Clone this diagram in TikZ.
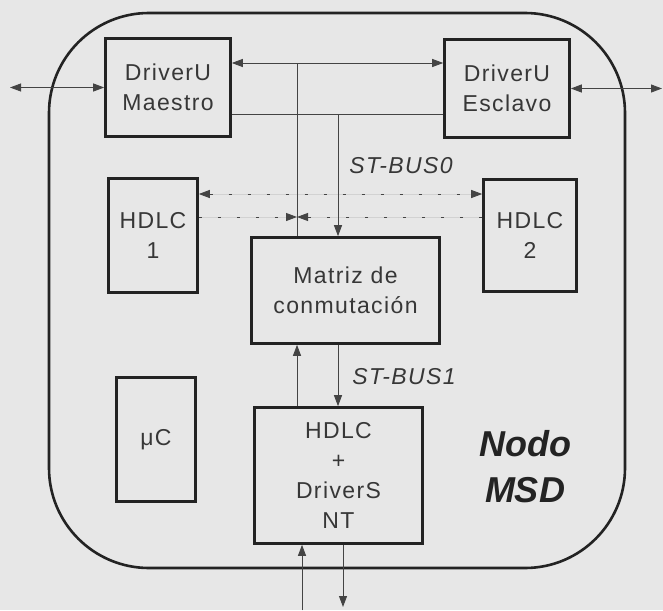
\documentclass[tikz,border=0pt]{standalone}
\usepackage{fontspec}
\setmainfont{Liberation Sans}
\newfontfamily\lsf[LetterSpace=6]{Liberation Sans}
\usetikzlibrary{arrows.meta}
\definecolor{bg}{RGB}{231,231,231}
\definecolor{ink}{RGB}{35,35,35}
\definecolor{txt}{RGB}{55,55,55}
\begin{document}
\begin{tikzpicture}[x=1pt,y=-1pt,
  >={Triangle[length=11pt,width=8pt]},
  blk/.style={draw=ink, line width=2.6pt, align=center, text=txt,
    font=\fontsize{23}{30}\selectfont\lsf, inner sep=0pt},
  conn/.style={draw=ink!85, line width=0.9pt, fill=ink!85},
  dsh/.style={dash pattern=on 3pt off 16pt},
  buslbl/.style={font=\fontsize{23}{28}\selectfont\lsf\itshape, text=txt}
]
\fill[bg] (0,0) rectangle (663,610);
\useasboundingbox (0,0) rectangle (663,610);

% outer node boundary
\draw[draw=ink, line width=2.6pt, rounded corners=100pt] (49,13) rectangle (625,568);

% blocks
\node[blk, minimum width=125pt, minimum height=98pt] (mae) at (168,87.5) {DriverU\\Maestro};
\node[blk, minimum width=125pt, minimum height=98pt] (esc) at (507,88.5) {DriverU\\Esclavo};
\node[blk, minimum width=89pt, minimum height=114pt] (h1) at (153,235.5) {HDLC\\1};
\node[blk, minimum width=93pt, minimum height=112pt] (h2) at (530,235.5) {HDLC\\2};
\node[blk, minimum width=188pt, minimum height=106pt] (mat) at (345.5,290.5) {Matriz de\\conmutación};
\node[blk, minimum width=79pt, minimum height=124pt] (uc) at (156,439.5) {μC};
\node[blk, minimum width=168pt, minimum height=136pt] (nt) at (338.5,475.5) {HDLC\\+\\DriverS\\NT};

% labels
\node[buslbl] (bus0) at (401,166) {ST-BUS0};
\node[buslbl] (bus1) at (404,377) {ST-BUS1};
\node[font=\fontsize{36}{46}\selectfont\bfseries\itshape, text=ink, align=center] (nodo) at (525,467) {Nodo\\MSD};

% coordinates
\coordinate (a) at (297,63);
\coordinate (b) at (338,114);
\coordinate (c) at (297,217);
\coordinate (d) at (338,194);
\coordinate (l) at (10,87.5);
\coordinate (r) at (662,88.5);
\coordinate (e) at (302,610);
\coordinate (f) at (343,607);

% external links
\draw[conn,<->] (l) -- (mae.west);
\draw[conn,<->] (esc.east) -- (r);

% ST-BUS0
\draw[conn,<->] (mae.east |- a) -- (esc.west |- a);
\draw[conn] (a) -- (mat.north -| a);
\draw[conn] (mae.east |- b) -- (esc.west |- b);
\draw[conn,->] (b) -- (mat.north -| b);
\draw[conn,dsh,<->] (h1.east |- d) -- (h2.west |- d);
\draw[conn,dsh,->] (h1.east |- c) -- (c);
\draw[conn,dsh,->] (h2.west |- c) -- (c);

% ST-BUS1
\draw[conn,->] (nt.north -| a) -- (mat.south -| a);
\draw[conn,->] (mat.south -| b) -- (nt.north -| b);

% bottom links
\draw[conn,->] (e) -- (nt.south -| e);
\draw[conn,->] (nt.south -| f) -- (f);
\end{tikzpicture}
\end{document}
